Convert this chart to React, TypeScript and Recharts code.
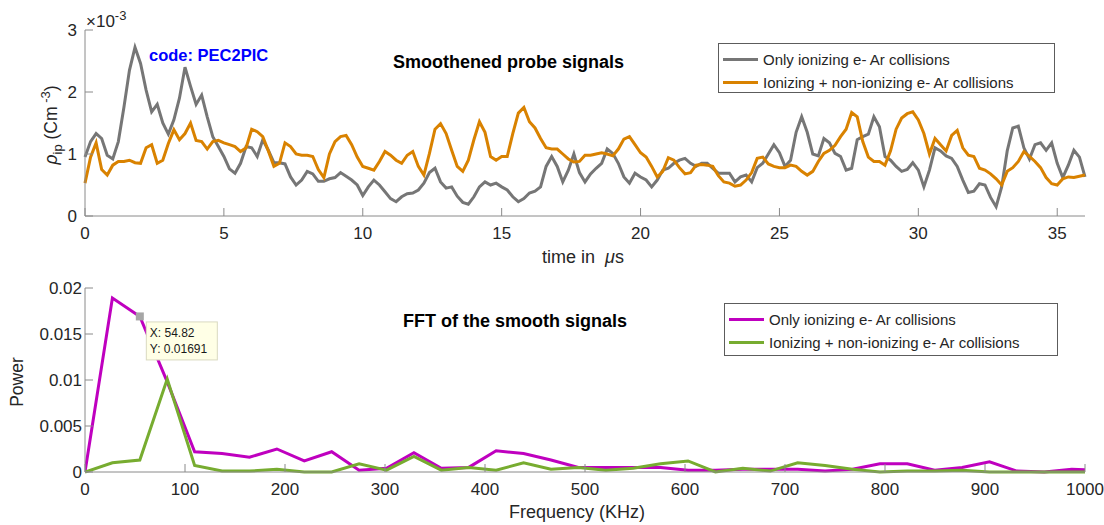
import { LineChart, Line, XAxis, YAxis, ReferenceDot } from 'recharts';

// probe signal samples, time step 0.2 µs, values in units of 1e-3 C m^-3
const TIME_US = Array.from({ length: 181 }, (_, i) => i / 5);

const ONLY_IONIZING = [
    0.95, 1.2, 1.33, 1.25, 0.98, 0.92, 1.2, 1.75, 2.35, 2.72,
    2.46, 2.03, 1.68, 1.8, 1.5, 1.32, 1.55, 1.9, 2.4, 2.09,
    1.8, 1.95, 1.6, 1.28, 1.12, 0.96, 0.76, 0.69, 0.85, 1.12,
    1.1, 0.96, 1.23, 1.06, 0.86, 0.86, 0.84, 0.63, 0.5, 0.58,
    0.72, 0.68, 0.56, 0.56, 0.6, 0.62, 0.7, 0.64, 0.58, 0.5,
    0.33, 0.47, 0.58, 0.5, 0.39, 0.28, 0.23, 0.31, 0.36, 0.37,
    0.42, 0.53, 0.7, 0.77, 0.55, 0.45, 0.47, 0.32, 0.22, 0.19,
    0.31, 0.47, 0.55, 0.5, 0.53, 0.47, 0.42, 0.31, 0.23, 0.28,
    0.37, 0.4, 0.47, 0.8, 0.96, 0.8, 0.55, 0.74, 1.0, 0.7,
    0.55, 0.68, 0.77, 0.85, 1.08, 1.01, 0.85, 0.63, 0.53, 0.69,
    0.63, 0.58, 0.47, 0.58, 0.74, 0.77, 0.85, 0.9, 0.93, 0.85,
    0.8, 0.85, 0.85, 0.77, 0.69, 0.69, 0.69, 0.55, 0.63, 0.66,
    0.55, 0.78, 0.85, 1.0, 1.15, 1.02, 0.8, 0.9, 1.35, 1.6,
    1.35, 1.0, 0.97, 1.25, 1.18, 1.01, 0.96, 0.74, 0.77, 1.23,
    1.28, 1.32, 1.6, 1.44, 0.96, 0.9, 0.8, 0.72, 0.75, 0.86,
    0.74, 0.47, 0.74, 1.1, 1.05, 0.97, 0.93, 0.8, 0.58, 0.38,
    0.4, 0.52, 0.5, 0.3, 0.15, 0.47, 1.05, 1.42, 1.45, 1.1,
    0.92, 1.15, 1.18, 1.06, 1.18, 0.85, 0.62, 0.82, 1.06, 0.95,
    0.63,
];

const WITH_NON_IONIZING = [
    0.53, 0.95, 1.18, 0.75, 0.66, 0.82, 0.88, 0.88, 0.9, 0.86,
    0.85, 1.1, 1.15, 0.85, 0.9, 1.17, 1.39, 1.23, 1.33, 1.5,
    1.22, 1.2, 1.08, 1.2, 1.22, 1.18, 1.15, 1.12, 1.04, 1.1,
    1.4, 1.36, 1.28, 1.05, 0.8, 0.85, 1.18, 1.12, 1.0, 0.98,
    0.98, 0.96, 0.75, 0.62, 1.0, 1.2, 1.28, 1.3, 1.15, 0.95,
    0.8, 0.77, 0.74, 0.88, 1.04, 0.98, 0.9, 0.85, 0.98, 1.04,
    0.8, 0.66, 1.01, 1.4, 1.49, 1.33, 1.06, 0.8, 0.72, 0.9,
    1.23, 1.52, 1.35, 0.96, 0.9, 0.96, 0.96, 1.33, 1.66, 1.75,
    1.52, 1.42, 1.25, 1.1, 1.08, 1.08, 1.0, 0.92, 0.87, 0.88,
    0.98, 0.98, 1.0, 1.02, 1.0, 0.97, 1.08, 1.24, 1.28, 1.15,
    1.02, 0.95, 0.8, 0.63, 0.72, 0.94, 0.9, 0.78, 0.68, 0.7,
    0.82, 0.83, 0.82, 0.8, 0.65, 0.55, 0.53, 0.48, 0.5, 0.58,
    0.7, 0.93, 0.95, 0.84, 0.8, 0.78, 0.78, 0.82, 0.8, 0.72,
    0.66, 0.72, 0.88, 1.01, 1.06, 1.14, 1.28, 1.4, 1.67, 1.6,
    1.2, 0.95, 0.88, 0.88, 0.82, 1.05, 1.4, 1.58, 1.65, 1.68,
    1.55, 1.33, 1.0, 1.25, 1.15, 1.05, 1.3, 1.38, 1.1, 0.98,
    0.96, 0.77, 0.74, 0.68, 0.6, 0.5, 0.72, 0.78, 0.88, 1.04,
    0.96, 0.88, 0.78, 0.62, 0.52, 0.5, 0.6, 0.63, 0.62, 0.64,
    0.66,
];

const TIME_TICKS = [0, 5, 10, 15, 20, 25, 30, 35];
const RHO_TICKS = [0, 1, 2, 3];

// FFT bins, 27.41 kHz apart
const FREQ_KHZ = Array.from({ length: 38 }, (_, k) => +(k * 27.41).toFixed(2));

const FFT_ONLY_IONIZING = [
    0, 0.0189, 0.01691, 0.0098, 0.0022, 0.002, 0.0016, 0.0025, 0.0012, 0.0022,
    0.0002, 0.0004, 0.0021, 0.0004, 0.0005, 0.0023, 0.002, 0.0013, 0.0005, 0.0005,
    0.0005, 0.0005, 0.0002, 0.0002, 0.0003, 0.0003, 0.0003, 0.0001, 0.0003, 0.0009,
    0.0009, 0.0002, 0.0005, 0.0011, 0.0001, 0, 0.0003, 0.0002,
];

const FFT_WITH_NON_IONIZING = [
    0, 0.001, 0.0013, 0.0101, 0.0007, 0.0001, 0.0001, 0.0003, 0, 0,
    0.0009, 0.0002, 0.0017, 0.0002, 0.0005, 0.0002, 0.001, 0.0003, 0.0005, 0.0002,
    0.0004, 0.0009, 0.0012, 0, 0.0004, 0.0001, 0.001, 0.0007, 0.0003, 0,
    0.0001, 0.0001, 0.0002, 0, 0, 0, 0, 0,
];

const FREQ_TICKS = [0, 100, 200, 300, 400, 500, 600, 700, 800, 900, 1000];
const POWER_TICKS = [0, 0.005, 0.01, 0.015, 0.02];

// data tip pinned on the magenta curve
const TIP_X = 54.82;
const TIP_Y = 0.01691;

const LEGEND_LABELS = ['Only ionizing e- Ar collisions', 'Ionizing + non-ionizing e- Ar collisions'];

const FONT = '"Liberation Sans", Arial, Helvetica, sans-serif';
const TEXT = '#262626';
const AXIS = '#8a8a8a';

const probeRows = TIME_US.map((t, i) => ({ t, a: ONLY_IONIZING[i], b: WITH_NON_IONIZING[i] }));
const fftRows = FREQ_KHZ.map((f, i) => ({ f, a: FFT_ONLY_IONIZING[i], b: FFT_WITH_NON_IONIZING[i] }));

const tickStyle = { fill: TEXT, fontSize: 17, fontFamily: FONT };

function Txt({ x, y, children, style }: { x: number; y: number; children: any; style?: any }) {
    return (
        <div style={{ position: 'absolute', left: x, top: y, transform: 'translate(-50%, -50%)', whiteSpace: 'nowrap', color: TEXT, ...style }}>
            {children}
        </div>
    );
}

function LegendBox({ left, top, width, height, colors }: { left: number; top: number; width: number; height: number; colors: string[] }) {
    return (
        <div style={{ position: 'absolute', left, top, width, height, boxSizing: 'border-box', border: '1px solid #5c5c5c', background: '#fff', padding: '4px 0 0 4px' }}>
            {LEGEND_LABELS.map((label, i) => (
                <div key={label} style={{ display: 'flex', alignItems: 'center', height: 23 }}>
                    <div style={{ width: 35, height: 3, background: colors[i], marginRight: 5 }} />
                    <span style={{ fontSize: 15, color: TEXT }}>{label}</span>
                </div>
            ))}
        </div>
    );
}

function DataTip(props: any) {
    const { cx, cy } = props;
    if (cx == null || cy == null) return null;
    return (
        <g>
            <rect x={cx - 4} y={cy - 4} width={8} height={8} fill="#a6a6a6" />
            <rect x={cx + 6.5} y={cy + 5.5} width={71} height={38} fill="#ffffe6" stroke="#d9d9c0" />
            <text x={cx + 10} y={cy + 21} fontSize={12} fontFamily={FONT} fill="#1a1a1a">X: {TIP_X}</text>
            <text x={cx + 10} y={cy + 37} fontSize={12} fontFamily={FONT} fill="#1a1a1a">Y: {TIP_Y}</text>
        </g>
    );
}

export default function App() {
    return (
        <div style={{ position: 'absolute', left: 0, top: 0, width: 1104, height: 525, background: '#fff', fontFamily: FONT, overflow: 'hidden' }}>
            <div style={{ position: 'absolute', left: 0, top: 0 }}>
                <LineChart width={1104} height={262} data={probeRows} margin={{ top: 30, right: 19, bottom: 16, left: 25 }}>
                    <XAxis dataKey="t" type="number" domain={[0, 36]} ticks={TIME_TICKS} height={30}
                        stroke={AXIS} tickSize={-8} tickMargin={19} tick={tickStyle} />
                    <XAxis xAxisId="top" orientation="top" dataKey="t" type="number" domain={[0, 36]} ticks={TIME_TICKS}
                        height={0} stroke={AXIS} tickSize={-8} tick={false} />
                    <YAxis type="number" domain={[0, 3]} ticks={RHO_TICKS} width={60}
                        stroke={AXIS} tickSize={-8} tickMargin={16} tick={tickStyle} />
                    <YAxis yAxisId="right" orientation="right" type="number" domain={[0, 3]} ticks={RHO_TICKS}
                        width={0} stroke={AXIS} tickSize={-8} tick={false} />
                    <Line type="linear" dataKey="a" stroke="#767676" strokeWidth={3} dot={false} isAnimationActive={false} />
                    <Line type="linear" dataKey="b" stroke="#d98200" strokeWidth={3} dot={false} isAnimationActive={false} />
                </LineChart>
            </div>

            <div style={{ position: 'absolute', left: 0, top: 262 }}>
                <LineChart width={1104} height={263} data={fftRows} margin={{ top: 26, right: 19, bottom: 23, left: 20 }}>
                    <XAxis dataKey="f" type="number" domain={[0, 1000]} ticks={FREQ_TICKS} height={30} allowDataOverflow
                        stroke={AXIS} tickSize={-8} tickMargin={19} tick={tickStyle} />
                    <XAxis xAxisId="top" orientation="top" dataKey="f" type="number" domain={[0, 1000]} ticks={FREQ_TICKS}
                        allowDataOverflow height={0} stroke={AXIS} tickSize={-8} tick={false} />
                    <YAxis type="number" domain={[0, 0.02]} ticks={POWER_TICKS} width={65}
                        stroke={AXIS} tickSize={-8} tickMargin={11} tick={tickStyle} />
                    <YAxis yAxisId="right" orientation="right" type="number" domain={[0, 0.02]} ticks={POWER_TICKS}
                        width={0} stroke={AXIS} tickSize={-8} tick={false} />
                    <Line type="linear" dataKey="a" stroke="#bf00bf" strokeWidth={3} dot={false} isAnimationActive={false} />
                    <Line type="linear" dataKey="b" stroke="#77ac30" strokeWidth={3} dot={false} isAnimationActive={false} />
                    <ReferenceDot x={TIP_X} y={TIP_Y} shape={DataTip} />
                </LineChart>
            </div>

            {/* top panel annotations */}
            <div style={{ position: 'absolute', left: 86, top: 12, fontSize: 17, color: TEXT, whiteSpace: 'nowrap' }}>
                ×10<span style={{ fontSize: 13, position: 'relative', top: -7 }}>-3</span>
            </div>
            <Txt x={51} y={125} style={{ transform: 'translate(-50%, -50%) rotate(-90deg)', fontSize: 17.5 }}>
                <i>ρ</i><span style={{ fontSize: 13, position: 'relative', top: 5 }}>ip</span> (Cm
                <span style={{ fontSize: 13, position: 'relative', top: -7 }}> -3</span>)
            </Txt>
            <div style={{ position: 'absolute', left: 149, top: 46, fontSize: 16.5, fontWeight: 'bold', color: '#0000ff', whiteSpace: 'nowrap' }}>
                code: PEC2PIC
            </div>
            <div style={{ position: 'absolute', left: 393, top: 52, fontSize: 18, fontWeight: 'bold', color: '#000', whiteSpace: 'nowrap' }}>
                Smoothened probe signals
            </div>
            <Txt x={583} y={257} style={{ fontSize: 18 }}>
                time in &nbsp;<i>μ</i>s
            </Txt>
            <LegendBox left={718} top={43} width={337} height={50} colors={['#767676', '#d98200']} />

            {/* bottom panel annotations */}
            <Txt x={17} y={382} style={{ transform: 'translate(-50%, -50%) rotate(-90deg)', fontSize: 17.5 }}>
                Power
            </Txt>
            <div style={{ position: 'absolute', left: 403, top: 311, fontSize: 18, fontWeight: 'bold', color: '#000', whiteSpace: 'nowrap' }}>
                FFT of the smooth signals
            </div>
            <Txt x={577} y={512} style={{ fontSize: 18 }}>
                Frequency (KHz)
            </Txt>
            <LegendBox left={724} top={303} width={334} height={53} colors={['#bf00bf', '#77ac30']} />
        </div>
    );
}
